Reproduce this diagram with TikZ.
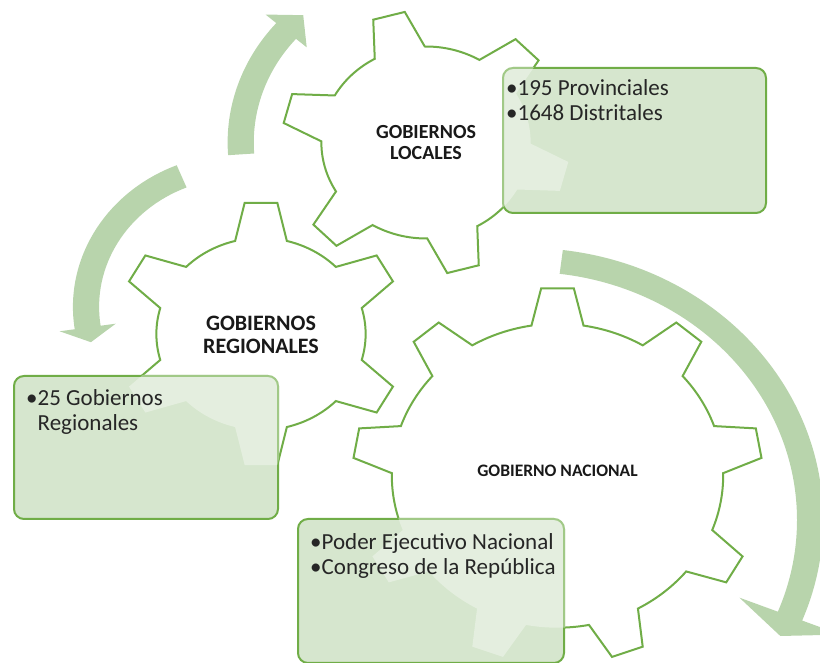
\documentclass[tikz,border=0pt]{standalone}
\usepackage{fontspec}
\setmainfont{Carlito}
\usetikzlibrary{positioning}

\definecolor{geargreen}{RGB}{112,173,71}
\definecolor{boxgreen}{RGB}{214,230,206}
\definecolor{arrowgreen}{RGB}{184,212,172}

% gear outline: [style] center, outer radius, teeth, angle of first tooth
\newcommand{\drawgear}[5][gearline]{%
  \pgfmathsetmacro{\gearri}{#3-36}
  \pgfmathsetmacro{\gearhb}{24/\gearri*57.2958}
  \pgfmathsetmacro{\gearht}{15/#3*57.2958}
  \pgfmathsetmacro{\gearstep}{360/#4}
  \pgfmathtruncatemacro{\gearlast}{#4-1}
  \begin{scope}[shift={#2}, xscale=1.09]
    \path[#1] ({#5-\gearhb}:\gearri)
      \foreach \k in {0,...,\gearlast} {
        -- ({#5+\k*\gearstep-\gearht}:#3) -- ({#5+\k*\gearstep+\gearht}:#3)
        -- ({#5+\k*\gearstep+\gearhb}:\gearri)
        arc[start angle={#5+\k*\gearstep+\gearhb}, end angle={#5+(\k+1)*\gearstep-\gearhb}, radius=\gearri]
      } -- cycle;
  \end{scope}
}

% broad circular arrow: center, radius, start, end, tip angle, head half width
\newcommand{\cyclearrow}[6]{%
  \begin{scope}[shift={#1}, xscale=1.09]
    \fill[arrowband] ({#3}:{#2+12}) arc[start angle={#3}, end angle={#4}, radius={#2+12}]
      -- ({#4}:{#2+#6}) -- ({#5}:{#2}) -- ({#4}:{#2-#6}) -- ({#4}:{#2-12})
      arc[start angle={#4}, end angle={#3}, radius={#2-12}] -- cycle;
  \end{scope}
}

\begin{document}
\begin{tikzpicture}[
    x=1pt, y=1pt,
    font=\fontsize{23}{25}\selectfont,
    % styles for the parts
    gearline/.style={draw=geargreen, line width=2pt, fill=white},
    gearshade/.style={fill=white, fill opacity=0.35},
    arrowband/.style={fill=arrowgreen},
    listbox/.style={rectangle, rounded corners=10pt, draw=geargreen, line width=2pt, fill=boxgreen, anchor=north west, inner sep=0pt},
    listtext/.style={align=left, anchor=base west, inner sep=0pt, text=black!85},
    gearlabel/.style={align=center, inner sep=0pt, text=black!90},
]
\useasboundingbox (0,0) rectangle (820,663);

% -------------------------
% Cycle arrows
% -------------------------
\cyclearrow{(426,520.5)}{170}{184}{139}{131.5}{25}
\cyclearrow{(239.7,356.1)}{141}{112.2}{188.4}{194.5}{26}
\cyclearrow{(526.7,143)}{260}{83}{-21.7}{-26.5}{50}

% -------------------------
% Gears
% -------------------------
\drawgear{(426,520.5)}{132}{6}{105}
\drawgear{(261,329)}{132}{6}{90}
\drawgear{(557.5,187.3)}{188}{9}{90}

\node (loclabel) [gearlabel, font=\bfseries\fontsize{20}{21}\selectfont] at (426,520.5) {GOBIERNOS\\LOCALES};
\node (reglabel) [gearlabel, font=\bfseries\fontsize{22}{22.5}\selectfont] at (261,328) {GOBIERNOS\\REGIONALES};
\node (naclabel) [gearlabel, font=\bfseries\fontsize{17.5}{18}\selectfont] at (557.5,192) {GOBIERNO NACIONAL};

% -------------------------
% Lists
% -------------------------
\node (locbox) [listbox, minimum width=263pt, minimum height=145pt] at (502,596) {};
\node (regbox) [listbox, minimum width=264pt, minimum height=143pt] at (13,288) {};
\node (nacbox) [listbox, minimum width=266pt, minimum height=144pt] at (297,145) {};

% lighter gear area seen through each box
\begin{scope}
  \clip[rounded corners=10pt] (locbox.north west) rectangle (locbox.south east);
  \drawgear[gearshade]{(426,520.5)}{132}{6}{105}
\end{scope}
\begin{scope}
  \clip[rounded corners=10pt] (regbox.north west) rectangle (regbox.south east);
  \drawgear[gearshade]{(261,329)}{132}{6}{90}
\end{scope}
\begin{scope}
  \clip[rounded corners=10pt] (nacbox.north west) rectangle (nacbox.south east);
  \drawgear[gearshade]{(557.5,187.3)}{188}{9}{90}
\end{scope}

\node (loctext) [listtext] at (506,542) {•195 Provinciales\\•1648 Distritales};
\node (regtext) [listtext] at (26,232) {•25 Gobiernos\\\phantom{•}Regionales};
\node (nactext) [listtext] at (310,88) {•Poder Ejecutivo Nacional\\•Congreso de la República};

\end{tikzpicture}
\end{document}
